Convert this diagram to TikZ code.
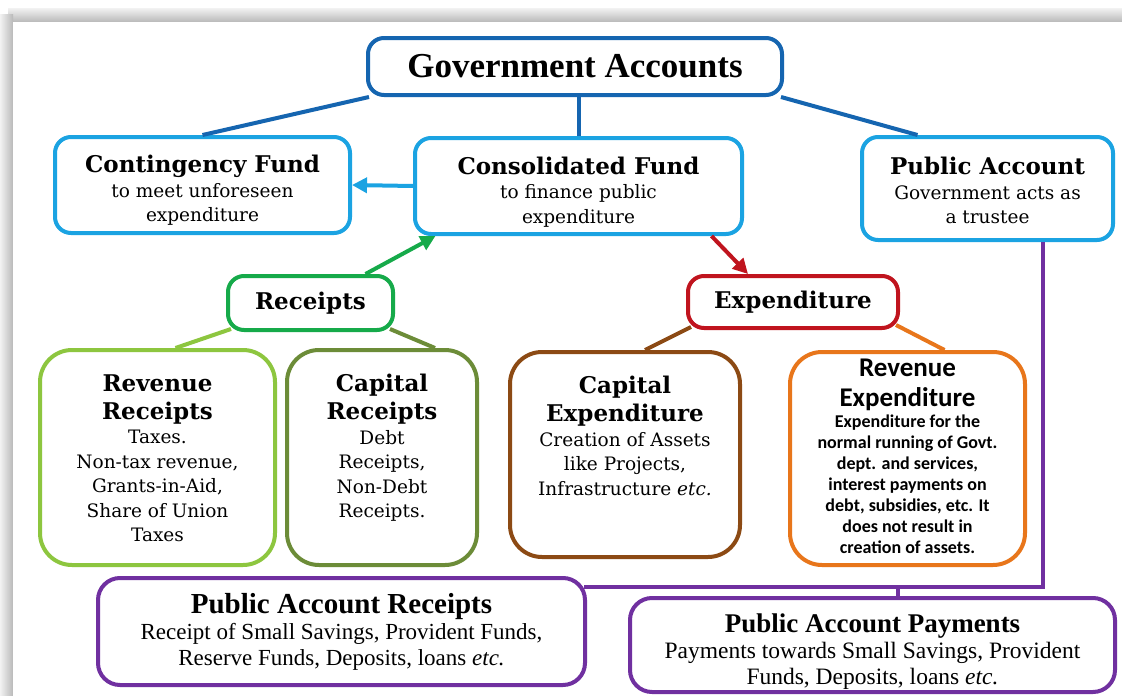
\documentclass[tikz,border=0pt]{standalone}
\usepackage{fontspec}
\setmainfont{DejaVu Serif}
\newfontfamily\headfont{Liberation Serif}
\newfontfamily\calfont{Carlito}
\usetikzlibrary{arrows.meta}
\definecolor{govblue}{RGB}{21,101,176}
\definecolor{fundblue}{RGB}{27,163,226}
\definecolor{recgreen}{RGB}{22,170,74}
\definecolor{expred}{RGB}{192,20,30}
\definecolor{revgreen}{RGB}{141,198,63}
\definecolor{capolive}{RGB}{108,140,56}
\definecolor{capbrown}{RGB}{140,74,20}
\definecolor{revorange}{RGB}{232,118,27}
\definecolor{papurple}{RGB}{112,48,160}
\newcommand{\titlefont}{\bfseries\fontsize{23}{28}\selectfont}
\newcommand{\bodyfont}{\mdseries\fontsize{18.5}{24.5}\selectfont}
\newcommand{\midbox}[2]{\parbox{#1}{\centering #2}}
\newcommand{\topbox}[3]{\parbox[c][#1][t]{#2}{\centering #3}}
\tikzset{
  box/.style={draw=#1, line width=4pt, rounded corners=16pt, fill=white,
    align=center, inner sep=0pt},
  bigbox/.style={box=#1, rounded corners=32pt},
  link/.style={draw=#1, line width=4pt},
  flow/.style={draw=#1, line width=4pt, -{Triangle[length=15pt,width=15pt]}}
}
\begin{document}
\begin{tikzpicture}[x=1pt,y=-1pt]
  \useasboundingbox (0,0) rectangle (1122,696);
  \shade[top color=gray!10, bottom color=gray!55] (8,8) rectangle (1122,22);
  \shade[left color=gray!10, right color=gray!55] (0,14) rectangle (13,696);
  \fill[white] (13,22) rectangle (1122,696);
  \node[box=govblue, minimum width=414pt, minimum height=57pt] (gov) at (575,66.5)
    {\headfont\bfseries\fontsize{35}{40}\selectfont Government Accounts};
  \node[box=fundblue, minimum width=295pt, minimum height=96pt] (cont) at (202.5,185)
    {\midbox{280pt}{\vspace*{11pt}{\titlefont Contingency Fund\par}{\bodyfont to meet unforeseen\\expenditure\par}}};
  \node[box=fundblue, minimum width=327pt, minimum height=96pt] (cons) at (578.5,186)
    {\midbox{310pt}{\vspace*{12pt}{\titlefont Consolidated Fund\par}{\bodyfont to finance public\\expenditure\par}}};
  \node[box=fundblue, minimum width=251pt, minimum height=103pt] (pub) at (987.5,188.5)
    {\midbox{240pt}{\vspace*{4pt}{\titlefont Public Account\par}{\bodyfont Government acts as\\a trustee\par}}};
  \node[box=recgreen, minimum width=165pt, minimum height=54pt] (rec) at (310.5,303)
    {\titlefont Receipts};
  \node[box=expred, minimum width=210pt, minimum height=52pt] (exp) at (793,302)
    {\titlefont Expenditure};
  \node[bigbox=revgreen, minimum width=235pt, minimum height=215pt] (revrec) at (157.5,457.5)
    {\topbox{166pt}{225pt}{{\titlefont Revenue\\Receipts\par}{\bodyfont Taxes.\\Non-tax revenue,\\Grants-in-Aid,\\Share of Union\\Taxes\par}}};
  \node[bigbox=capolive, minimum width=190pt, minimum height=215pt] (caprec) at (382,457.5)
    {\topbox{166pt}{180pt}{{\titlefont Capital\\Receipts\par}{\bodyfont Debt\\Receipts,\\Non-Debt\\Receipts.\par}}};
  \node[bigbox=capbrown, minimum width=230pt, minimum height=205pt] (capexp) at (625,454.5)
    {\topbox{156pt}{220pt}{{\titlefont Capital\\Expenditure\par}{\bodyfont Creation of Assets\\like Projects,\\Infrastructure \textit{etc.}\par}}};
  \node[bigbox=revorange, minimum width=235pt, minimum height=213pt] (revexp) at (907.5,458.5)
    {\topbox{200pt}{230pt}{\calfont\bfseries{\fontsize{27}{30.5}\selectfont Revenue\\Expenditure\par}{\fontsize{18}{21}\selectfont Expenditure for the\\normal running of Govt.\\dept. and services,\\interest payments on\\debt, subsidies, etc. It\\does not result in\\creation of assets.\par}}};
  \node[box=papurple, rounded corners=22pt, minimum width=487pt, minimum height=107pt] (par) at (341.5,631.5)
    {\midbox{480pt}{\headfont{\bfseries\fontsize{29}{29}\selectfont Public Account Receipts\par}{\fontsize{23}{26}\selectfont Receipt of Small Savings, Provident Funds,\\Reserve Funds, Deposits, loans \textit{etc.}\par}}};
  \node[box=papurple, rounded corners=22pt, minimum width=485pt, minimum height=94pt] (pap) at (872.5,645)
    {\midbox{480pt}{\vspace*{13pt}\headfont{\bfseries\fontsize{27}{27}\selectfont Public Account Payments\par}{\fontsize{23.5}{26}\selectfont Payments towards Small Savings, Provident\\Funds, Deposits, loans \textit{etc.}\par}}};
  \coordinate (pa1) at (1043,587);
  \coordinate (pa2) at (898,587);
  \draw[link=govblue] ([xshift=3pt]gov.south west) -- (cont.north);
  \draw[link=govblue] (gov.south -| cons.north) -- (cons.north);
  \draw[link=govblue] ([xshift=-3pt]gov.south east) -- ([xshift=-70pt]pub.north);
  \draw[flow=fundblue] (cons.west) -- (cont.east);
  \draw[flow=recgreen] ([xshift=55pt]rec.north) -- ([xshift=-143pt]cons.south);
  \draw[flow=expred] ([xshift=133pt]cons.south) -- ([xshift=-45pt]exp.north);
  \draw[link=revgreen] ([shift={(5pt,3pt)}]rec.south west) -- ([xshift=18pt]revrec.north);
  \draw[link=capolive] ([shift={(-5pt,3pt)}]rec.south east) -- ([xshift=53pt]caprec.north);
  \draw[link=capbrown] ([shift={(5pt,3pt)}]exp.south west) -- ([xshift=20pt]capexp.north);
  \draw[link=revorange] ([shift={(-4pt,5pt)}]exp.south east) -- ([xshift=37pt]revexp.north);
  \draw[link=papurple] (pub.south -| pa1) -- (pa1) -- ([xshift=-3pt]par.east |- pa1);
  \draw[link=papurple] (pa2) -- (pap.north -| pa2);
\end{tikzpicture}
\end{document}
